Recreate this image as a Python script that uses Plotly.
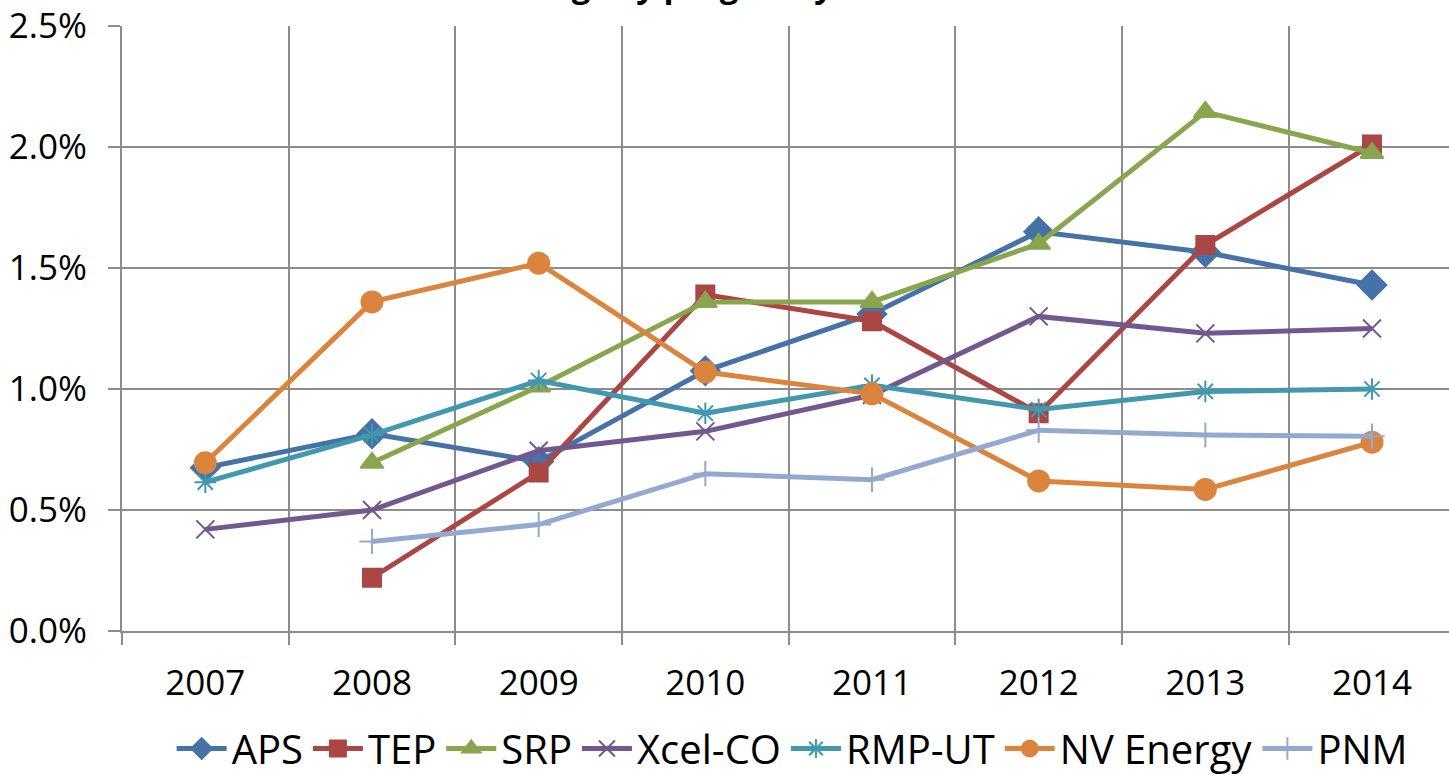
import plotly.graph_objects as go

years = [2007, 2008, 2009, 2010, 2011, 2012, 2013, 2014]

aps = [0.675, 0.815, 0.70, 1.075, 1.31, 1.65, 1.565, 1.43]
tep = [None, 0.22, 0.655, 1.39, 1.28, 0.90, 1.595, 2.01]
srp = [None, 0.695, 1.01, 1.36, 1.36, 1.60, 2.145, 1.975]
xcel_co = [0.42, 0.50, 0.745, 0.825, 0.975, 1.30, 1.23, 1.25]
rmp_ut = [0.615, 0.81, 1.035, 0.90, 1.015, 0.915, 0.99, 1.00]
nv_energy = [0.695, 1.36, 1.52, 1.07, 0.98, 0.62, 0.585, 0.78]
pnm = [None, 0.37, 0.44, 0.65, 0.625, 0.83, 0.81, 0.805]

series = [
    ("APS", aps, "#4572A7", "diamond", 22),
    ("TEP", tep, "#AA4643", "square", 18),
    ("SRP", srp, "#89A54E", "triangle-up", 20),
    ("Xcel-CO", xcel_co, "#71588F", "x-thin-open", 18),
    ("RMP-UT", rmp_ut, "#4198AF", "asterisk-open", 18),
    ("NV Energy", nv_energy, "#DB843D", "circle", 21),
    ("PNM", pnm, "#93A9CF", "cross-thin-open", 18),
]

FONT = "Open Sans"

# figure is slightly taller than the 774px window; the page clips the excess
W, H = 1449, 781
L, T = 122, 26
PLOT_H = 605.5
B = H - T - PLOT_H

fig = go.Figure()
for name, vals, color, sym, size in series:
    fig.add_trace(go.Scatter(
        x=years, y=vals, name=name, mode="lines+markers",
        line=dict(color=color, width=5),
        marker=dict(symbol=sym, size=size, color=color,
                    line=dict(color=color, width=2)),
        connectgaps=False,
    ))

fig.update_layout(
    width=W, height=H,
    margin=dict(l=L, r=0, t=T, b=B),
    plot_bgcolor="white", paper_bgcolor="white",
    font=dict(family=FONT, size=35, color="black"),
    showlegend=True,
    legend=dict(orientation="h", x=0.505, xanchor="center",
                yref="container", y=0, yanchor="bottom",
                font=dict(family=FONT, size=40), itemwidth=50, tracegroupgap=0,
                bgcolor="rgba(0,0,0,0)"),
)

fig.update_xaxes(
    range=[2006.5, 2014.462],
    tickvals=years, ticktext=[str(y) for y in years],
    ticks="", showgrid=False, zeroline=False,
    showline=True, linecolor="#8c8c8c", linewidth=2,
    ticklabelstandoff=20, ticklabeloverflow="allow",
    minor=dict(tick0=2006.5, dtick=1, showgrid=True, gridcolor="#8c8c8c", gridwidth=2,
               ticks="outside", ticklen=12, tickcolor="#8c8c8c", tickwidth=2),
)
fig.update_yaxes(
    range=[0, 2.5], dtick=0.5, tickformat=".1f", ticksuffix="%",
    showgrid=True, gridcolor="#8c8c8c", gridwidth=2, zeroline=False,
    ticks="outside", ticklen=12, tickcolor="#8c8c8c", tickwidth=2,
    showline=True, linecolor="#8c8c8c", linewidth=2,
    ticklabelstandoff=14, ticklabeloverflow="allow",
)

fig.add_annotation(
    text="<b>Savings by program year</b>", xref="paper", yref="paper",
    x=(890 - L) / (W - L), xanchor="right", y=1 + (T + 40) / PLOT_H, yanchor="top",
    showarrow=False, font=dict(family=FONT, size=33, color="black"),
)

fig.write_html(
    "out.html",
    config={"displayModeBar": False},
    post_script="document.body.style.margin='0';document.body.style.overflow='hidden';",
)
